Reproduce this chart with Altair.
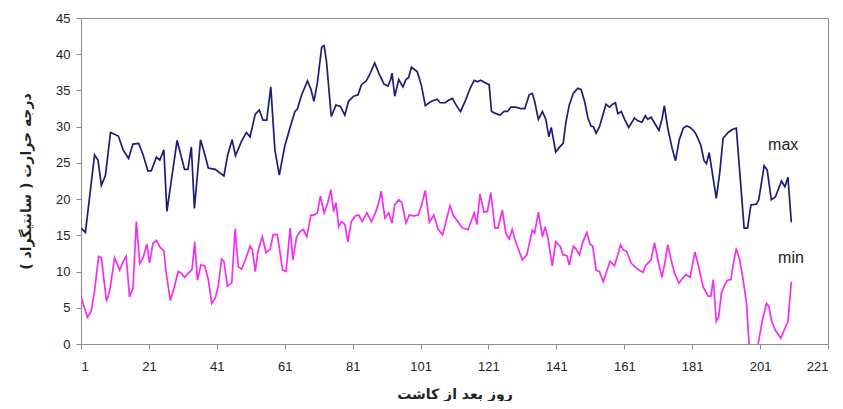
import altair as alt
import pandas as pd

# ---- data ----
max_days = [1, 2.3, 5, 6, 7, 8.2, 9.7, 12, 13.4, 15, 16.3, 18, 19.3, 20.7, 21.7, 23.2, 24.2, 25.4,
            26.3, 29.3, 31.5, 32.5, 33.5, 34.4, 36.2, 37.5, 38.5, 40.5, 43.1, 44.2, 45.5, 46.5, 48.3,
            49.7, 50.8, 52.3, 53.5, 54.6, 55.7, 56.9, 58.1, 59.4, 61, 62.4, 64, 64.7, 66, 67.7, 68.7,
            69.6, 70.6, 71.9, 72.6, 73.3, 74.7, 76.1, 77.4, 78.7, 79.8, 81.3, 82.6, 83.6, 85, 86.2,
            87.5, 88.7, 90.2, 91.4, 92.2, 92.6, 93.4, 94.6, 95.8, 96.7, 97.5, 98.3, 100, 101.2, 102.4,
            104.2, 105.9, 106.8, 108.3, 109.1, 110.4, 111.7, 112.8, 114.3, 115.6, 116.8, 117.7, 118.7,
            119.9, 121.2, 121.9, 123.2, 124.4, 125.6, 126.6, 127.6, 129, 130.5, 131.7, 133, 133.9,
            134.6, 135.7, 136.9, 137.9, 138.8, 139.5, 140.8, 141.8, 143, 143.8, 144.8, 146, 147.3,
            148.3, 149.3, 150.3, 151.2, 151.9, 152.7, 153.7, 154.7, 155.6, 156.6, 157.6, 158.4, 159.1,
            160.1, 161.1, 162.3, 164, 165, 166.2, 167.2, 167.9, 168.9, 169.9, 171.2, 172.1, 172.8,
            173.8, 175.1, 176.1, 177.2, 178.4, 179.4, 180.4, 181.5, 182.2, 183.5, 184.5, 185.2, 186,
            186.7, 188.1, 189.1, 190.1, 191.6, 192.8, 194, 196.3, 197.3, 198.3, 199.9, 200.6, 202.2,
            203.1, 204.3, 205.5, 207.3, 208.3, 209.2, 210.2]
max_vals = [16.0, 15.4, 26.1, 25.4, 21.9, 23.3, 29.2, 28.7, 26.8, 25.6, 27.6, 27.7, 26.1, 23.9, 23.9,
            25.8, 25.4, 26.8, 18.3, 28.1, 24.1, 24.1, 27.2, 18.7, 28.2, 26.1, 24.3, 24.1, 23.2, 26.1,
            28.2, 26.0, 28.0, 29.2, 28.6, 31.7, 32.3, 30.9, 30.9, 35.5, 26.8, 23.3, 27.3, 29.6, 32.1,
            32.4, 34.4, 36.3, 35.2, 33.5, 36.0, 41.0, 41.2, 39.0, 31.4, 33.0, 32.8, 31.6, 33.5, 34.2,
            34.4, 35.8, 36.3, 37.4, 38.8, 37.4, 35.9, 35.6, 36.5, 37.4, 34.2, 36.5, 35.5, 36.5, 36.8,
            38.2, 37.6, 35.8, 32.9, 33.5, 33.8, 33.3, 33.3, 33.6, 33.9, 32.8, 32.1, 33.7, 35.3, 36.4,
            36.2, 36.4, 36.1, 35.8, 32.1, 31.8, 31.6, 32.1, 32.1, 32.7, 32.7, 32.5, 32.5, 34.4, 34.6,
            33.5, 31.0, 32.1, 31.0, 28.6, 29.9, 26.5, 27.1, 27.7, 30.6, 33.0, 34.6, 35.3, 35.1, 33.5,
            31.2, 30.1, 30.0, 29.1, 30.0, 31.6, 33.1, 32.7, 33.1, 33.3, 31.8, 32.1, 31.0, 29.9, 31.2,
            30.8, 30.6, 31.5, 31.0, 31.3, 30.5, 29.5, 31.0, 32.9, 29.8, 27.0, 25.3, 28.2, 29.8, 30.1,
            29.9, 29.4, 28.9, 27.5, 25.3, 24.9, 26.4, 24.3, 20.1, 23.6, 28.4, 29.2, 29.6, 29.8, 16.0,
            16.0, 19.2, 19.3, 19.9, 24.6, 24.0, 19.9, 20.3, 22.5, 21.7, 23.0, 16.8]

min_days = [1, 2.9, 4, 5, 6.2, 7, 8.5, 9.4, 10.9, 12.4, 13.4, 14.3, 15.3, 16.3, 17.3, 18.3, 19.3, 20.4,
            21.2, 22.2, 23.2, 24.2, 25.4, 26.1, 27.3, 28.4, 29.6, 30.5, 31.5, 33.7, 34.5, 35.3, 36.3,
            37.4, 38.5, 39.5, 40.5, 41.4, 42.4, 43.1, 44.1, 45.4, 46.4, 47.3, 48.3, 49.6, 50.8, 51.5,
            52.3, 53.2, 54.4, 55.5, 56.7, 57.6, 58.8, 60.4, 61.4, 62.6, 63.4, 64.5, 65.5, 66.5, 67.5,
            68.7, 69.6, 70.6, 71.5, 72.6, 73.6, 74.6, 75.4, 76.1, 76.9, 77.7, 78.7, 79.6, 80.6, 81.8,
            82.8, 83.8, 85.2, 86.5, 87.7, 88.7, 89.4, 90.5, 91.6, 92.6, 93.4, 94.6, 95.5, 96.7, 97.7,
            99, 100.3, 101.2, 102.4, 103.6, 104.9, 106.2, 107.5, 108.8, 109.7, 110.7, 112, 113.3, 115,
            116.8, 117.6, 118.5, 119.7, 120.7, 121.7, 122.9, 123.8, 125.1, 126.1, 127.1, 128, 129,
            131, 132.3, 133.9, 134.6, 135.7, 136.9, 137.7, 138.6, 139.8, 140.8, 142.1, 143, 144.1,
            144.8, 146, 146.8, 147.8, 148.8, 150, 150.9, 151.7, 152.7, 153.7, 154.8, 155.8, 156.8,
            158.1, 159.1, 159.9, 160.7, 161.7, 163, 164, 165.3, 166.5, 167.4, 168.9, 169.9, 170.9,
            172.1, 173.1, 173.8, 174.8, 175.8, 177.1, 178.2, 179.2, 180.4, 181.8, 182.9, 184.2, 185.7,
            186.5, 187.2, 188.1, 188.8, 189.6, 190.6, 191.4, 192.4, 193, 194, 195, 196, 197, 198.3,
            199.3, 201.6, 202.9, 203.6, 204.3, 205.5, 207.1, 207.8, 209.2, 210.2]
min_vals = [6.5, 3.7, 4.5, 7.4, 12.1, 11.9, 5.9, 7.2, 11.9, 10.2, 11.4, 12.1, 6.5, 7.7, 16.9, 11.1,
            11.9, 13.8, 11.2, 13.9, 14.3, 13.4, 12.9, 9.8, 6.0, 7.7, 10.0, 9.8, 9.2, 10.3, 14.1, 8.8,
            10.9, 10.8, 8.9, 5.6, 6.3, 7.9, 11.7, 11.4, 8.0, 8.4, 15.9, 10.7, 10.3, 11.9, 13.5, 13.0,
            10.0, 13.0, 14.8, 12.6, 13.1, 15.1, 15.1, 10.2, 10.0, 16.0, 11.6, 14.8, 15.5, 15.8, 14.8,
            17.8, 17.8, 18.1, 20.4, 18.1, 19.4, 21.3, 18.3, 19.5, 16.2, 16.9, 16.5, 14.1, 16.9, 17.7,
            17.8, 16.9, 18.1, 16.9, 18.1, 19.5, 21.1, 17.4, 18.1, 16.7, 19.2, 19.9, 19.5, 16.7, 17.8,
            17.7, 17.8, 19.0, 21.2, 16.8, 17.8, 15.8, 15.1, 17.5, 19.1, 17.7, 16.9, 16.0, 15.8, 18.1,
            16.5, 20.7, 18.2, 18.3, 20.9, 16.0, 16.0, 18.5, 15.3, 14.5, 15.8, 14.1, 11.6, 12.3, 15.7,
            15.3, 18.2, 14.8, 16.2, 14.4, 10.8, 14.1, 13.5, 12.3, 12.2, 10.9, 13.5, 13.1, 12.3, 14.1,
            15.4, 13.8, 13.5, 10.2, 10.0, 8.6, 10.0, 11.4, 10.8, 12.3, 13.7, 13.0, 12.8, 11.2, 10.7,
            10.2, 9.9, 10.9, 11.6, 14.0, 11.6, 9.2, 11.6, 13.7, 11.6, 9.8, 8.4, 9.1, 9.6, 9.2, 12.7,
            10.7, 7.9, 6.6, 6.6, 8.9, 3.1, 3.8, 7.0, 8.2, 8.8, 8.9, 10.7, 13.2, 11.6, 8.9, 5.6, -4.0,
            -3.0, 3.1, 5.6, 5.2, 3.3, 1.9, 0.8, 1.6, 3.1, 8.6]

series_names = ["max", "min"]
series_colors = ["#1d1d75", "#f22ef2"]
label_days = [207.8, 210.1]
label_vals = [27.5, 11.9]

x_ticks = [1, 21, 41, 61, 81, 101, 121, 141, 161, 181, 201, 221]
y_ticks = [0, 5, 10, 15, 20, 25, 30, 35, 40, 45]

x_title = "روز بعد از کاشت"
y_title = "درجه حرارت ( سانتیگراد )"

# ---- tables ----
df = pd.concat([
    pd.DataFrame({"day": max_days, "temp": max_vals, "series": "max"}),
    pd.DataFrame({"day": min_days, "temp": min_vals, "series": "min"}),
], ignore_index=True)
df["idx"] = range(len(df))
labels_df = pd.DataFrame({"day": label_days, "temp": label_vals, "label": series_names})

x_enc = alt.X("day:Q",
              scale=alt.Scale(domain=[1, 221], nice=False, zero=False),
              axis=alt.Axis(values=x_ticks, title=x_title, grid=False, tickSize=5,
                            labelPadding=11, titlePadding=14, labelOverlap=False))
y_enc = alt.Y("temp:Q",
              scale=alt.Scale(domain=[0, 45], nice=False),
              axis=alt.Axis(values=y_ticks, tickCount=10, title=y_title, grid=False, tickSize=5,
                            labelPadding=6, titlePadding=22, labelOverlap=False))

lines = alt.Chart(df).mark_line(clip=True, strokeWidth=1.7).encode(
    x=x_enc,
    y=y_enc,
    color=alt.Color("series:N", scale=alt.Scale(domain=series_names, range=series_colors), legend=None),
    order="idx:Q",
)

labels = alt.Chart(labels_df).mark_text(font="Liberation Sans", fontSize=16, color="#222222").encode(
    x=x_enc,
    y=y_enc,
    text="label:N",
)

chart = alt.layer(lines, labels).properties(
    width=747,
    height=326,
    autosize=alt.AutoSizeParams(type="none"),
    padding={"left": 73, "top": 10, "right": 7, "bottom": 57},
).configure_view(
    stroke="#8c8c8c", strokeWidth=1
).configure_axis(
    domainColor="#8c8c8c", tickColor="#8c8c8c",
    labelFont="Liberation Sans", labelFontSize=13, labelColor="#222222",
    titleFont="DejaVu Sans", titleFontSize=14, titleFontWeight="bold", titleColor="#222222",
)

chart.save("out.html", embed_options={"renderer": "svg", "actions": False})
